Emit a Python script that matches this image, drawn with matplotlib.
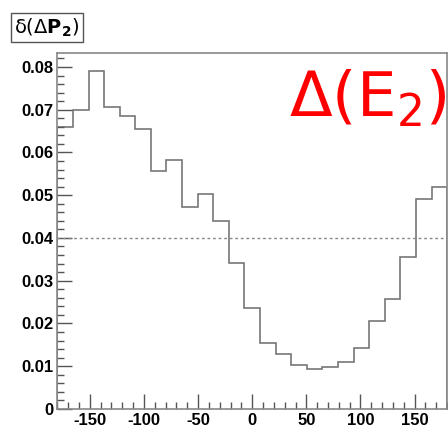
import numpy as np
import matplotlib.pyplot as plt
from matplotlib.ticker import MultipleLocator

plt.rcParams['axes.unicode_minus'] = False

# histogram: 25 bins from -180 to 180
x_lo, x_hi, n_bins = -180, 180, 25
values = [0.0660, 0.0700, 0.0791, 0.0706, 0.0685, 0.0656, 0.0556, 0.0582,
          0.0473, 0.0503, 0.0440, 0.0342, 0.0235, 0.0155, 0.0128, 0.0103,
          0.0093, 0.0097, 0.0110, 0.0143, 0.0205, 0.0257, 0.0355, 0.0490,
          0.0520]
ref_level = 0.04
x_ticks = [-150, -100, -50, 0, 50, 100, 150]
y_ticks = [0, 0.01, 0.02, 0.03, 0.04, 0.05, 0.06, 0.07, 0.08]
y_labels = ['0', '0.01', '0.02', '0.03', '0.04', '0.05', '0.06', '0.07', '0.08']

edges = np.linspace(x_lo, x_hi, n_bins + 1)

fig = plt.figure(figsize=(4.48, 4.30), dpi=100)
ax = fig.add_axes([0.128, 0.049, 0.870, 0.828])

ax.stairs(values, edges, color='#777777', lw=1.2)
ax.axhline(ref_level, color='#888888', lw=1.0, ls=(0, (2, 2)))

ax.set_xlim(x_lo, x_hi)
ax.set_ylim(0, max(values) * 1.053)

ax.set_xticks(x_ticks)
ax.set_yticks(y_ticks)
ax.set_yticklabels(y_labels)
ax.xaxis.set_minor_locator(MultipleLocator(10))
ax.yaxis.set_minor_locator(MultipleLocator(0.002))
ax.tick_params(which='major', direction='in', length=11, width=1, color='#555555',
               labelsize=12, pad=3)
ax.tick_params(which='minor', direction='in', length=5, width=1, color='#555555')
for lab in ax.get_xticklabels() + ax.get_yticklabels():
    lab.set_fontweight('bold')
    lab.set_family('Liberation Sans')

for sp in ax.spines.values():
    sp.set_color('#888888')
    sp.set_linewidth(1.2)

fig.text(0.032, 0.962, 'δ(Δ$\\mathbf{P}_{\\mathbf{2}}$)', fontsize=14,
         va='top', ha='left', family='DejaVu Sans',
         bbox=dict(boxstyle='square,pad=0.15', fc='white', ec='#555555', lw=1))

fig.text(0.998, 0.728, r'$\Delta$(E$_2$)', color='red', fontsize=45,
         ha='right', va='baseline', family='DejaVu Sans')

fig.savefig('out.png', dpi=100)
